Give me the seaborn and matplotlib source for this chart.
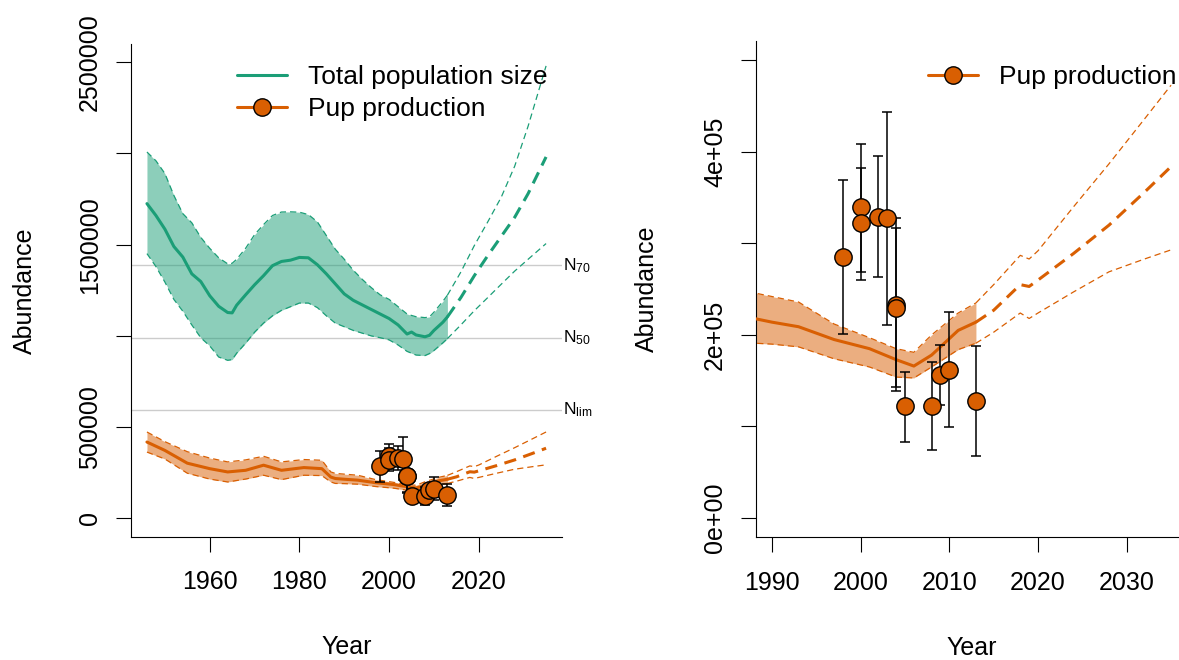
import numpy as np
import matplotlib
matplotlib.use("Agg")
import matplotlib.pyplot as plt
import matplotlib.transforms as mtransforms
from matplotlib.lines import Line2D
import seaborn as sns

GREEN = "#1B9E77"
ORANGE = "#D95F02"

# total population fit (thousands)
tot_years = [1946, 1948, 1950, 1952, 1954, 1956, 1958, 1960, 1962, 1964, 1965, 1966,
             1968, 1970, 1972, 1974, 1976, 1978, 1980, 1982, 1984, 1986, 1988, 1990,
             1992, 1994, 1996, 1998, 2000, 2002, 2004, 2005, 2006, 2008, 2009, 2010,
             2012, 2013]
tot_mid = [1725, 1660, 1585, 1490, 1432, 1340, 1298, 1220, 1162, 1128, 1126, 1168,
           1225, 1280, 1330, 1385, 1408, 1415, 1430, 1428, 1390, 1340, 1285, 1230,
           1195, 1170, 1145, 1120, 1095, 1060, 1010, 1021, 1005, 995, 1003, 1030,
           1075, 1104]
tot_hi = [2008, 1960, 1890, 1770, 1670, 1620, 1540, 1480, 1428, 1395, 1398, 1420,
          1480, 1555, 1610, 1660, 1679, 1680, 1678, 1665, 1625, 1550, 1475, 1420,
          1360, 1310, 1265, 1225, 1200, 1160, 1120, 1112, 1105, 1100, 1104, 1130,
          1190, 1223]
tot_lo = [1451, 1380, 1295, 1200, 1135, 1060, 990, 945, 884, 866, 870, 905,
          960, 1020, 1070, 1110, 1140, 1160, 1180, 1180, 1155, 1110, 1070, 1050,
          1030, 1015, 1000, 990, 978, 950, 915, 905, 895, 892, 903, 920,
          962, 985]

# total population projection (thousands)
tot_proj_years = [2013, 2016, 2019, 2022, 2025, 2028, 2031, 2035]
tot_proj_mid = [1104, 1210, 1330, 1440, 1545, 1650, 1780, 1981]
tot_proj_hi = [1223, 1350, 1495, 1625, 1760, 1930, 2150, 2480]
tot_proj_lo = [985, 1060, 1138, 1210, 1283, 1355, 1420, 1506]

# pup production fit (thousands)
pup_years = [1946, 1950, 1955, 1960, 1964, 1968, 1972, 1976, 1981, 1985, 1987,
             1988, 1990, 1993, 1997, 2001, 2004, 2006, 2008, 2011, 2013]
pup_mid = [418, 372, 302, 272, 254, 263, 291, 263, 278, 272, 226,
           218, 214, 209, 195, 185, 173, 166, 178, 205, 214]
pup_hi = [473, 420, 365, 330, 309, 320, 340, 309, 322, 318, 254,
          246, 242, 236, 212, 197, 185, 181, 200, 224, 235]
pup_lo = [363, 325, 247, 215, 199, 215, 236, 212, 236, 234, 199,
          191, 190, 187, 174, 165, 154, 153, 165, 184, 191]

# pup production projection (thousands)
pup_proj_years = [2013, 2015, 2018, 2019, 2020, 2024, 2028, 2032, 2035]
pup_proj_mid = [214, 227, 255, 253, 260, 289, 320, 356, 384]
pup_proj_hi = [235, 255, 287, 283, 292, 340, 387, 436, 473]
pup_proj_lo = [191, 203, 224, 218, 224, 247, 269, 283, 293]

# pup surveys (thousands)
obs_years = [1998, 2000, 2000, 2002, 2003, 2004, 2004, 2005, 2008, 2009, 2010, 2013]
obs_est = [285, 340, 322, 329, 327.5, 233, 230, 122, 122, 156, 162, 128]
obs_lo = [201, 269, 260, 263, 211, 143.5, 139, 83, 74, 123, 99, 68]
obs_hi = [369, 409, 383, 396, 444, 327.5, 317, 160, 170, 189, 225, 188]

ref_names = [r"$\mathregular{N_{70}}$", r"$\mathregular{N_{50}}$", r"$\mathregular{N_{lim}}$"]
ref_values = [1386, 990, 594]

left_yticks = [0, 500000, 1000000, 1500000, 2000000, 2500000]
left_ylabels = ["0", "500000", "", "1500000", "", "2500000"]
right_yticks = [0, 100000, 200000, 300000, 400000, 500000]
right_ylabels = ["0e+00", "", "2e+05", "", "4e+05", ""]

K = 1000.0
FS = 18
THIN_DASH = (0, (5, 3.2))
THICK_DASH = (0, (4, 2.5))

sns.set_style("ticks")
plt.rcParams["font.family"] = ["Liberation Sans", "DejaVu Sans"]
plt.rcParams["text.color"] = "black"
plt.rcParams["axes.labelcolor"] = "black"
plt.rcParams["xtick.color"] = "black"
plt.rcParams["ytick.color"] = "black"


def k(vals):
    return np.asarray(vals, dtype=float) * K


def draw_fit(ax, yrs, mid, lo, hi, color):
    ax.fill_between(yrs, k(lo), k(hi), color=color, alpha=0.5, lw=0, zorder=2)
    for band in (lo, hi):
        sns.lineplot(x=yrs, y=k(band), ax=ax, color=color, lw=0.9,
                     linestyle=THIN_DASH, estimator=None, sort=False, zorder=3)
    sns.lineplot(x=yrs, y=k(mid), ax=ax, color=color, lw=2.2,
                 estimator=None, sort=False, zorder=4)


def draw_proj(ax, yrs, mid, lo, hi, color):
    for band in (lo, hi):
        sns.lineplot(x=yrs, y=k(band), ax=ax, color=color, lw=0.9,
                     linestyle=THIN_DASH, estimator=None, sort=False, zorder=3)
    sns.lineplot(x=yrs, y=k(mid), ax=ax, color=color, lw=2.2,
                 linestyle=THICK_DASH, estimator=None, sort=False, zorder=4)


def draw_obs(ax):
    est = k(obs_est)
    yerr = [est - k(obs_lo), k(obs_hi) - est]
    ax.errorbar(obs_years, est, yerr=yerr, fmt="none", ecolor="black",
                elinewidth=1.1, capsize=3.3, capthick=1.1, zorder=5)
    sns.scatterplot(x=obs_years, y=est, ax=ax, color=ORANGE, s=156,
                    edgecolor="black", linewidth=1, zorder=6)


def style_axes(ax):
    sns.despine(ax=ax)
    for side in ("left", "bottom"):
        ax.spines[side].set_linewidth(0.8)
        ax.spines[side].set_color("black")
    ax.tick_params(axis="both", direction="out", length=10.8, width=0.8,
                   labelsize=FS, colors="black")
    ax.tick_params(axis="x", pad=13.5)
    ax.tick_params(axis="y", pad=10, labelrotation=90)
    for lab in ax.get_yticklabels():
        lab.set_va("center")
    ax.set_xlabel("Year", fontsize=FS, va="center")
    ax.set_ylabel("Abundance", fontsize=FS, va="center")
    ax.grid(False)


fig = plt.figure(figsize=(11.79, 6.6), dpi=100)
ax1 = fig.add_axes([0.1111, 0.1871, 0.3656, 0.7462])
ax2 = fig.add_axes([0.6412, 0.1864, 0.3656, 0.7508])

# left panel
for name, val in zip(ref_names, ref_values):
    ax1.axhline(val * K, color="#cccccc", lw=1, zorder=1)
    trans = mtransforms.blended_transform_factory(ax1.transAxes, ax1.transData)
    ax1.text(1.002, val * K, name, transform=trans, ha="left", va="center",
             fontsize=12.5, clip_on=False)

draw_fit(ax1, tot_years, tot_mid, tot_lo, tot_hi, GREEN)
draw_proj(ax1, tot_proj_years, tot_proj_mid, tot_proj_lo, tot_proj_hi, GREEN)
draw_fit(ax1, pup_years, pup_mid, pup_lo, pup_hi, ORANGE)
draw_proj(ax1, pup_proj_years, pup_proj_mid, pup_proj_lo, pup_proj_hi, ORANGE)
draw_obs(ax1)

ax1.set_xlim(1942.44, 2038.56)
ax1.set_ylim(-100000, 2600000)
ax1.set_xticks([1960, 1980, 2000, 2020])
ax1.set_yticks(left_yticks)
ax1.set_yticklabels(left_ylabels)
style_axes(ax1)
ax1.xaxis.set_label_coords(0.5, -0.2244)
ax1.yaxis.set_label_coords(-0.246, 0.5)

handles = [
    Line2D([0], [0], color=GREEN, lw=2.2),
    Line2D([0], [0], color=ORANGE, lw=2.2, marker="o", markersize=12.5,
           markerfacecolor=ORANGE, markeredgecolor="black", markeredgewidth=1),
]
ax1.legend(handles, ["Total population size", "Pup production"], loc="upper left",
           bbox_to_anchor=(0.246, 0.957), frameon=False, borderaxespad=0,
           borderpad=0, handlelength=1.9, handletextpad=0.8, labelspacing=0.3,
           fontsize=19)

# right panel
draw_fit(ax2, pup_years, pup_mid, pup_lo, pup_hi, ORANGE)
draw_proj(ax2, pup_proj_years, pup_proj_mid, pup_proj_lo, pup_proj_hi, ORANGE)
draw_obs(ax2)

ax2.set_xlim(1988.2, 2036.8)
ax2.set_ylim(-20800, 520800)
ax2.set_xticks([1990, 2000, 2010, 2020, 2030])
ax2.set_yticks(right_yticks)
ax2.set_yticklabels(right_ylabels)
style_axes(ax2)
ax2.xaxis.set_label_coords(0.5, -0.2244)
ax2.yaxis.set_label_coords(-0.253, 0.5)

ax2.legend(handles[1:], ["Pup production"], loc="upper left",
           bbox_to_anchor=(0.399, 0.952), frameon=False, borderaxespad=0,
           borderpad=0, handlelength=1.9, handletextpad=0.8, fontsize=19)

fig.savefig("out.png", dpi=100)
